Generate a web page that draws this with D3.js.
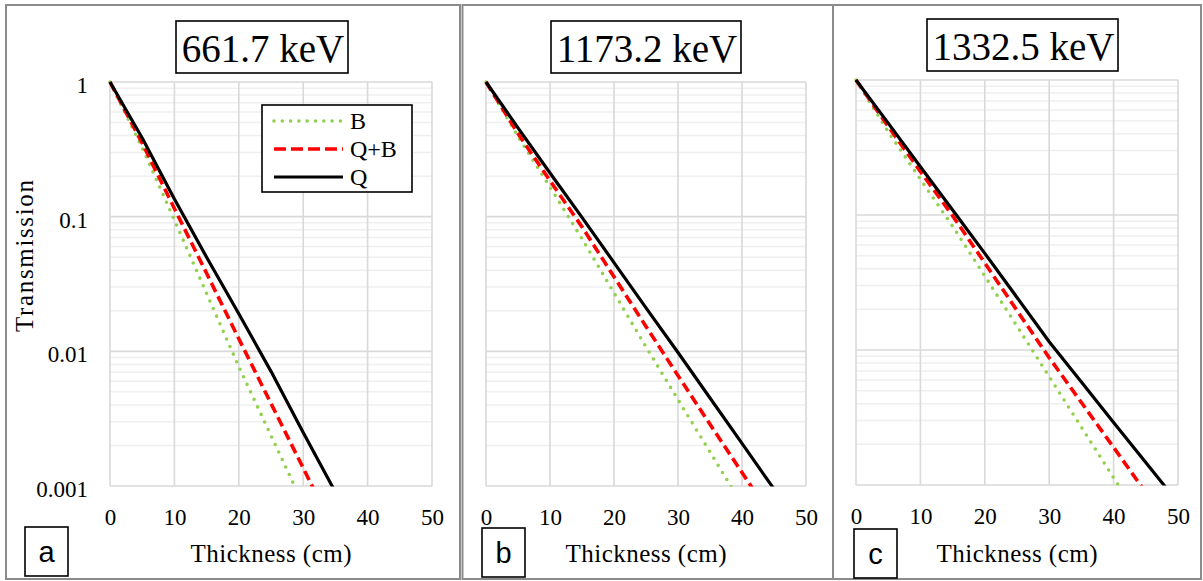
<!DOCTYPE html>
<html>
<head>
<meta charset="utf-8">
<script src="https://cdn.jsdelivr.net/npm/d3@7"></script>
</head>
<body style="margin:0; background:#fff">
<div id="chart"></div>
<script>
// values (transmission vs thickness, every 5 cm)
var thickness = [0, 5, 10, 15, 20, 25, 30, 35, 40, 45, 50];
var energies = ["661.7 keV", "1173.2 keV", "1332.5 keV"];
var panelLetters = ["a", "b", "c"];
var seriesNames = ["B", "Q+B", "Q"];

var b661  = [1, 0.325, 0.0944, 0.0269, 0.0077, 0.00237, 0.00073];
var qb661 = [1, 0.352, 0.115, 0.038, 0.0124, 0.0041, 0.00136, 0.00045];
var q661  = [1, 0.384, 0.135, 0.050, 0.019, 0.0071, 0.0025, 0.0009];

var b1173  = [1, 0.394, 0.166, 0.0686, 0.0272, 0.0108, 0.00438, 0.00179, 0.00073];
var qb1173 = [1, 0.414, 0.185, 0.084, 0.0358, 0.0153, 0.0066, 0.00287, 0.00126, 0.00055];
var q1173  = [1, 0.457, 0.211, 0.0989, 0.0456, 0.0210, 0.0098, 0.0045, 0.00207, 0.00095];

var b1332  = [1, 0.413, 0.184, 0.0826, 0.0353, 0.0150, 0.00634, 0.00268, 0.00113, 0.00048];
var qb1332 = [1, 0.453, 0.210, 0.0988, 0.0441, 0.0196, 0.00877, 0.00408, 0.0019, 0.00088];
var q1332  = [1, 0.479, 0.228, 0.109, 0.052, 0.0245, 0.0115, 0.0058, 0.0029, 0.00147, 0.00074];

var xTicks = [0, 10, 20, 30, 40, 50];
var yTicks = [1, 0.1, 0.01, 0.001];
var yTickLabels = ["1", "0.1", "0.01", "0.001"];

var panelSeries = [[b661, qb661, q661], [b1173, qb1173, q1173], [b1332, qb1332, q1332]];

var SERIF = '"Liberation Serif"';
var SANS = '"Liberation Sans"';

// styles per series: B, Q+B, Q
var styles = [
  { color: "#92d050", width: 3.6, dash: "0,8.3", cap: "round" },
  { color: "#ff0000", width: 3.6, dash: "10,5", cap: "butt" },
  { color: "#000000", width: 3.2, dash: null, cap: "butt" }
];

// layout of each panel
var layout = [
  { box: [6, 5, 454, 574], plot: [110, 82, 432, 486], title: [176, 21, 172, 52], letter: [25, 527, 43, 49], yLabels: true, legend: true },
  { box: [462.5, 5, 370.5, 574], plot: [486, 82, 806, 486], title: [551, 21, 190, 52], letter: [482, 528, 43, 49], yLabels: false, legend: false },
  { box: [833, 5, 368, 574], plot: [856, 80, 1178, 485], title: [927, 19, 191, 52], letter: [854, 529, 43, 49], yLabels: false, legend: false }
];

var svg = d3.select('#chart').append('svg')
  .attr('width', 1203)
  .attr('height', 581);

var defs = svg.append('defs');

function serifText(sel, size) {
  return sel.style('font-family', SERIF).attr('font-size', size).attr('fill', '#000');
}

layout.forEach(function (L, p) {
  var g = svg.append('g');
  var x0 = L.plot[0], y0 = L.plot[1], x1 = L.plot[2], y1 = L.plot[3];

  // outer panel frame
  g.append('rect')
    .attr('x', L.box[0]).attr('y', L.box[1])
    .attr('width', L.box[2]).attr('height', L.box[3])
    .attr('fill', 'none').attr('stroke', '#8c8c8c').attr('stroke-width', 2);

  var x = d3.scaleLinear().domain([0, 50]).range([x0, x1]);
  var y = d3.scaleLog().domain([0.001, 1]).range([y1, y0]);

  // minor horizontal grid
  var minor = [];
  [0.001, 0.01, 0.1].forEach(function (d) {
    for (var k = 2; k <= 9; k++) minor.push(d * k);
  });
  g.selectAll('line.minor').data(minor).enter().append('line')
    .attr('class', 'minor')
    .attr('x1', x0).attr('x2', x1)
    .attr('y1', function (d) { return y(d); })
    .attr('y2', function (d) { return y(d); })
    .attr('stroke', '#efefef').attr('stroke-width', 1.5);

  // major grid
  g.selectAll('line.hmaj').data(yTicks).enter().append('line')
    .attr('class', 'hmaj')
    .attr('x1', x0).attr('x2', x1)
    .attr('y1', function (d) { return y(d); })
    .attr('y2', function (d) { return y(d); })
    .attr('stroke', '#d9d9d9').attr('stroke-width', 1.6);
  g.selectAll('line.vmaj').data(xTicks).enter().append('line')
    .attr('class', 'vmaj')
    .attr('y1', y0).attr('y2', y1)
    .attr('x1', function (d) { return x(d); })
    .attr('x2', function (d) { return x(d); })
    .attr('stroke', '#d9d9d9').attr('stroke-width', 1.6);

  // x axis labels
  var xAxis = d3.axisBottom(x).tickValues(xTicks).tickSize(0).tickPadding(23);
  var xg = g.append('g').attr('transform', 'translate(0,' + y1 + ')').call(xAxis);
  xg.attr('font-family', null).attr('font-size', null);
  xg.select('.domain').remove();
  serifText(xg.selectAll('text'), 23);

  if (L.yLabels) {
    var yAxis = d3.axisLeft(y).tickValues(yTicks).tickSize(0).tickPadding(22)
      .tickFormat(function (d, i) { return yTickLabels[i]; });
    var yg = g.append('g').attr('transform', 'translate(' + x0 + ',0)').call(yAxis);
    yg.attr('font-family', null).attr('font-size', null);
    yg.select('.domain').remove();
    serifText(yg.selectAll('text'), 23).attr('dy', '0.45em');

    serifText(g.append('text'), 25)
      .attr('transform', 'translate(33,256) rotate(-90)')
      .attr('text-anchor', 'middle')
      .attr('textLength', 152)
      .text('Transmission');
  }

  // axis title
  serifText(g.append('text'), 25)
    .attr('x', (x0 + x1) / 2).attr('y', 562)
    .attr('text-anchor', 'middle')
    .attr('textLength', 161)
    .text('Thickness (cm)');

  // clip for curves
  var clipId = 'clip' + p;
  defs.append('clipPath').attr('id', clipId).append('rect')
    .attr('x', x0 - 5).attr('y', y0 - 5)
    .attr('width', x1 - x0 + 5).attr('height', y1 - y0 + 5.5);

  var line = d3.line()
    .x(function (d) { return x(d.t); })
    .y(function (d) { return y(d.v); });

  var curves = g.append('g').attr('clip-path', 'url(#' + clipId + ')');
  panelSeries[p].forEach(function (vals, s) {
    var pts = vals.map(function (v, i) { return { t: thickness[i], v: v }; });
    var st = styles[s];
    curves.append('path')
      .attr('d', line(pts))
      .attr('fill', 'none')
      .attr('stroke', st.color)
      .attr('stroke-width', st.width)
      .attr('stroke-linecap', st.cap)
      .attr('stroke-linejoin', 'round')
      .attr('stroke-dasharray', st.dash);
  });

  // energy title box
  g.append('rect')
    .attr('x', L.title[0]).attr('y', L.title[1])
    .attr('width', L.title[2]).attr('height', L.title[3])
    .attr('fill', '#fff').attr('stroke', '#000').attr('stroke-width', 1.6);
  serifText(g.append('text'), 39)
    .attr('x', L.title[0] + L.title[2] / 2 + 1).attr('y', L.title[1] + 41)
    .attr('text-anchor', 'middle')
    .text(energies[p]);

  // panel letter box
  g.append('rect')
    .attr('x', L.letter[0]).attr('y', L.letter[1])
    .attr('width', L.letter[2]).attr('height', L.letter[3])
    .attr('fill', '#fff').attr('stroke', '#000').attr('stroke-width', 1.6);
  g.append('text')
    .attr('x', L.letter[0] + L.letter[2] / 2).attr('y', L.letter[1] + 35)
    .attr('text-anchor', 'middle')
    .style('font-family', SANS)
    .attr('font-size', 29)
    .text(panelLetters[p]);

  // legend
  if (L.legend) {
    var lg = g.append('g');
    lg.append('rect')
      .attr('x', 262).attr('y', 105).attr('width', 150).attr('height', 87)
      .attr('fill', '#fff').attr('stroke', '#000').attr('stroke-width', 1.6);
    seriesNames.forEach(function (name, s) {
      var st = styles[s];
      var ly = 121 + s * 28;
      lg.append('line')
        .attr('x1', 274).attr('x2', 343)
        .attr('y1', ly).attr('y2', ly)
        .attr('stroke', st.color)
        .attr('stroke-width', st.width)
        .attr('stroke-linecap', st.cap)
        .attr('stroke-dasharray', s === 1 ? '12,5' : st.dash);
      serifText(lg.append('text'), 24)
        .attr('x', 350).attr('y', ly + 8)
        .text(name);
    });
  }
});
</script>
</body>
</html>
